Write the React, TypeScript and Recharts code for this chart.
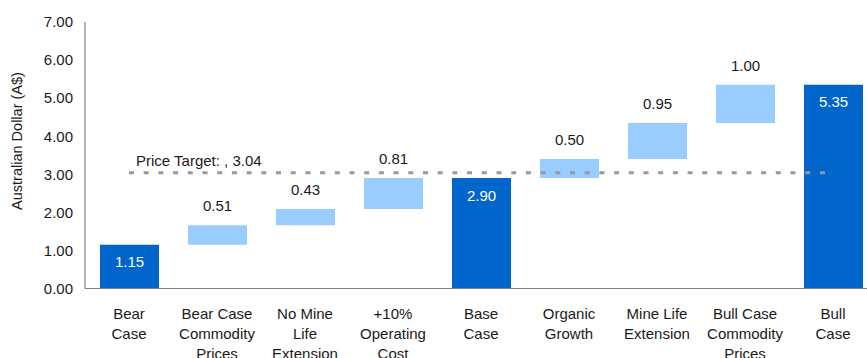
import React from 'react';
import { BarChart, Bar, XAxis, YAxis, Cell, LabelList, ReferenceLine } from 'recharts';

// Valuation bridge, bear -> base -> bull (A$ per share)
const categories = [
  'Bear\nCase',
  'Bear Case\nCommodity\nPrices',
  'No Mine\nLife\nExtension',
  '+10%\nOperating\nCost',
  'Base\nCase',
  'Organic\nGrowth',
  'Mine Life\nExtension',
  'Bull Case\nCommodity\nPrices',
  'Bull\nCase',
];
const steps = [1.15, 0.51, 0.43, 0.81, 2.9, 0.5, 0.95, 1.0, 5.35];
const isTotal = [true, false, false, false, true, false, false, false, true];
const yTicks = [0, 1, 2, 3, 4, 5, 6, 7];
const priceTarget = 3.04;
const priceTargetLabel = 'Price Target: , 3.04';

const FONT = '"Liberation Sans", Arial, sans-serif';
const TOTAL_COLOR = '#0066CC';
const STEP_COLOR = '#99CCFF';
const TEXT = '#1a1a1a';

let running = 0;
const data = categories.map((name, i) => {
  const value = steps[i];
  let base = 0;
  if (isTotal[i]) {
    running = value;
  } else {
    base = running;
    running += value;
  }
  return { name, base, value, total: isTotal[i] };
});

const XTick = (props: any) => {
  const { x, y, payload } = props;
  const lines = String(payload.value).split('\n');
  return (
    <text x={x} y={y} textAnchor="middle" fontFamily={FONT} fontSize={15} fill={TEXT}>
      {lines.map((ln, i) => (
        <tspan key={i} x={x} dy={i === 0 ? 28.5 : 20}>
          {ln}
        </tspan>
      ))}
    </text>
  );
};

const ValueLabel = (props: any) => {
  const { x, y, width, value, index } = props;
  const cx = x + width / 2;
  if (isTotal[index]) {
    return (
      <text x={cx} y={y + 22.5} textAnchor="middle" fontFamily={FONT} fontSize={15} fill="#ffffff">
        {Number(value).toFixed(2)}
      </text>
    );
  }
  return (
    <text x={cx} y={y - 14} textAnchor="middle" fontFamily={FONT} fontSize={15} fill={TEXT}>
      {Number(value).toFixed(2)}
    </text>
  );
};

const TargetLabel = (props: any) => {
  const { viewBox } = props;
  return (
    <text x={viewBox.x + 7} y={viewBox.y - 6.5} fontFamily={FONT} fontSize={15} fill={TEXT}>
      {priceTargetLabel}
    </text>
  );
};

const AxisTitle = () => (
  <text
    x={17}
    y={141}
    transform="rotate(-90 17 141)"
    textAnchor="middle"
    dominantBaseline="central"
    fontFamily={FONT}
    fontSize={14.5}
    fill={TEXT}
  >
    Australian Dollar (A$)
  </text>
);

export default function App() {
  return (
    <div
      style={{
        position: 'absolute',
        left: 0,
        top: 0,
        width: 867,
        height: 358,
        overflow: 'hidden',
        background: '#ffffff',
      }}
    >
      <BarChart
        width={877}
        height={358}
        data={data}
        margin={{ top: 22, right: 0, bottom: 0, left: 0 }}
        barSize={59}
      >
        <XAxis
          dataKey="name"
          interval={0}
          tickLine={false}
          tickSize={0}
          height={69.5}
          axisLine={{ stroke: '#808080', strokeWidth: 1.2 }}
          tick={<XTick />}
        />
        <YAxis
          width={85}
          domain={[0, 7]}
          ticks={yTicks}
          tickLine={false}
          tickSize={0}
          tickMargin={12}
          interval={0}
          axisLine={{ stroke: '#808080', strokeWidth: 1.2 }}
          tickFormatter={(v: number) => v.toFixed(2)}
          tick={{ fontFamily: FONT, fontSize: 15, fill: TEXT }}
          label={<AxisTitle />}
        />
        <Bar dataKey="base" stackId="w" fill="transparent" isAnimationActive={false} />
        <Bar dataKey="value" stackId="w" isAnimationActive={false}>
          {data.map((d, i) => (
            <Cell key={i} fill={d.total ? TOTAL_COLOR : STEP_COLOR} />
          ))}
          <LabelList dataKey="value" content={<ValueLabel />} />
        </Bar>
        <ReferenceLine
          segment={[
            { x: categories[0], y: priceTarget },
            { x: categories[categories.length - 1], y: priceTarget },
          ]}
          stroke="#999999"
          strokeWidth={3}
          strokeDasharray="5 9.7"
          label={<TargetLabel />}
        />
      </BarChart>
    </div>
  );
}
